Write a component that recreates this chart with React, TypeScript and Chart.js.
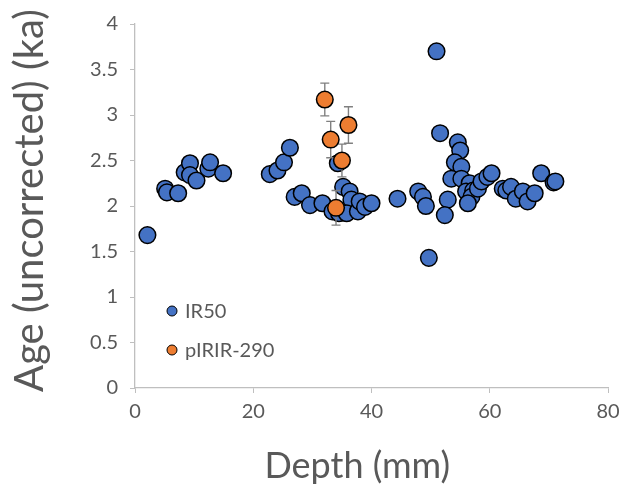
import React, { useEffect, useRef } from "react";
import { Chart, registerables } from "chart.js";

Chart.register(...registerables);

// ---- data ----
const seriesNames = ["IR50", "pIRIR-290"];

const ir50Depth = [
  2.1, 5.1, 5.4, 7.3, 8.4, 9.3, 9.3, 10.4, 12.4, 12.7, 14.9, 22.8, 24.1, 25.2, 26.2, 27.0,
  28.2, 29.6, 31.7, 33.4, 34.5, 34.3, 35.2, 36.3, 36.6, 35.8, 37.7, 38.0, 38.9, 40.0, 44.4,
  47.9, 48.7, 49.2, 49.7, 51.0, 51.6, 52.9, 52.4, 54.6, 55.0, 54.1, 55.2, 53.5, 55.2, 56.6,
  56.0, 57.2, 56.9, 56.3, 58.0, 58.6, 59.6, 60.3, 62.2, 62.8, 63.6, 64.4, 65.6, 66.4, 67.6,
  68.7, 70.8, 71.1,
];
const ir50Age = [
  1.68, 2.19, 2.15, 2.14, 2.37, 2.47, 2.34, 2.28, 2.41, 2.48, 2.36, 2.35, 2.39, 2.48, 2.64, 2.10,
  2.14, 2.01, 2.03, 1.94, 1.92, 2.47, 2.21, 2.16, 2.07, 1.92, 1.94, 2.05, 1.99, 2.03, 2.08,
  2.16, 2.10, 2.00, 1.43, 3.70, 2.80, 2.07, 1.90, 2.70, 2.61, 2.48, 2.43, 2.30, 2.30, 2.25,
  2.16, 2.17, 2.10, 2.03, 2.19, 2.27, 2.32, 2.36, 2.19, 2.17, 2.21, 2.08, 2.16, 2.05, 2.14,
  2.36, 2.26, 2.27,
];

const pirirDepth = [32.1, 33.1, 36.1, 35.0, 34.0];
const pirirAge = [3.17, 2.73, 2.89, 2.5, 1.98];
const pirirErr = [0.18, 0.2, 0.2, 0.18, 0.19];

const xMin = 0;
const xMax = 80;
const xStep = 20;
const yMin = 0;
const yMax = 4;
const yStep = 0.5;

const xTitle = "Depth (mm)";
const yTitle = "Age (uncorrected) (ka)";

// ---- styles ----
const FONT = "Lato";
const TEXT = "#595959";
const AXIS = "#bfbfbf";
const BLUE = "#4472C4";
const ORANGE = "#ED7D31";

const errorBarPlugin = {
  id: "errorBars",
  beforeDatasetDraw(chart: any, args: any) {
    if (args.index !== 1) return;
    const ctx = chart.ctx;
    const xs = chart.scales.x;
    const ys = chart.scales.y;
    const data = chart.data.datasets[1].data as any[];
    ctx.save();
    ctx.strokeStyle = "#808080";
    ctx.lineWidth = 1.4;
    data.forEach((p) => {
      const x = xs.getPixelForValue(p.x);
      const yt = ys.getPixelForValue(p.y + p.err);
      const yb = ys.getPixelForValue(p.y - p.err);
      ctx.beginPath();
      ctx.moveTo(x, yt);
      ctx.lineTo(x, yb);
      ctx.moveTo(x - 4.5, yt);
      ctx.lineTo(x + 4.5, yt);
      ctx.moveTo(x - 4.5, yb);
      ctx.lineTo(x + 4.5, yb);
      ctx.stroke();
    });
    ctx.restore();
  },
};

const titlesLegendPlugin = {
  id: "titlesLegend",
  afterDraw(chart: any) {
    const ctx = chart.ctx;
    const area = chart.chartArea;
    ctx.save();
    ctx.fillStyle = TEXT;
    ctx.textAlign = "center";
    ctx.textBaseline = "middle";
    // x title
    ctx.font = `36px ${FONT}`;
    ctx.fillText(xTitle, area.left + (area.right - area.left) * 0.47, 466);
    // y title
    ctx.save();
    ctx.font = `40px ${FONT}`;
    ctx.translate(30, area.top + (area.bottom - area.top) * 0.485);
    ctx.rotate(-Math.PI / 2);
    ctx.fillText(yTitle, 0, 0);
    ctx.restore();
    // legend
    const colors = [BLUE, ORANGE];
    chart.data.datasets.forEach((ds: any, i: number) => {
      const cx = area.left + 37;
      const cy = area.bottom - 77 + i * 39;
      ctx.beginPath();
      ctx.arc(cx, cy, 5, 0, Math.PI * 2);
      ctx.fillStyle = colors[i];
      ctx.fill();
      ctx.lineWidth = 1;
      ctx.strokeStyle = "#000";
      ctx.stroke();
      ctx.fillStyle = TEXT;
      ctx.font = `20px ${FONT}`;
      ctx.textAlign = "left";
      ctx.textBaseline = "middle";
      ctx.fillText(ds.label, cx + 13, cy + 1);
    });
    ctx.restore();
  },
};

export default function App() {
  const ref = useRef<HTMLCanvasElement>(null);
  useEffect(() => {
    document.body.style.margin = "0";
    const canvas = ref.current!;
    const chart = new Chart(canvas, {
      type: "scatter",
      data: {
        datasets: [
          {
            label: seriesNames[0],
            data: ir50Depth.map((d, i) => ({ x: d, y: ir50Age[i] })),
            backgroundColor: BLUE,
            borderColor: "#000",
            borderWidth: 1.5,
            pointRadius: 8.3,
            order: 2,
          },
          {
            label: seriesNames[1],
            data: pirirDepth.map((d, i) => ({ x: d, y: pirirAge[i], err: pirirErr[i] })),
            backgroundColor: ORANGE,
            borderColor: "#000",
            borderWidth: 1.5,
            pointRadius: 8.3,
            order: 1,
          },
        ],
      },
      options: {
        responsive: false,
        animation: false,
        layout: { padding: { top: 21, right: 25, left: 0, bottom: 0 } },
        plugins: {
          legend: { display: false },
          tooltip: { enabled: false },
        },
        scales: {
          x: {
            type: "linear",
            min: xMin,
            max: xMax,
            ticks: {
              stepSize: xStep,
              color: TEXT,
              font: { family: FONT, size: 20 },
              padding: 7,
              callback: (v: any) => `${+v}`,
            },
            grid: { drawOnChartArea: false, color: AXIS, tickLength: 5 },
            border: { color: AXIS, width: 1.3 },
            afterFit: (s: any) => {
              s.height = 103;
            },
          },
          y: {
            type: "linear",
            min: yMin,
            max: yMax,
            ticks: {
              stepSize: yStep,
              color: TEXT,
              font: { family: FONT, size: 20 },
              padding: 12,
              callback: (v: any) => `${+Number(v).toFixed(2)}`,
            },
            grid: { drawOnChartArea: false, color: AXIS, tickLength: 5 },
            border: { color: AXIS, width: 1.3 },
            afterFit: (s: any) => {
              s.width = 135;
            },
          },
        },
      },
      plugins: [errorBarPlugin, titlesLegendPlugin],
    });
    return () => chart.destroy();
  }, []);
  return (
    <div style={{ width: 633, height: 491 }}>
      <canvas ref={ref} width={633} height={491} />
    </div>
  );
}
